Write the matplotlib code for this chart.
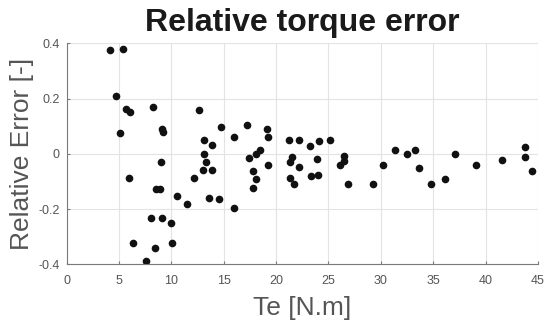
import matplotlib
matplotlib.use('Agg')
from matplotlib import pyplot as plt

# torque (N.m) and relative error
te = [4.11, 5.41, 4.71, 5.70, 6.08, 8.28, 12.68, 5.13, 9.10, 9.22,
      14.78, 13.09, 13.92, 9.04, 13.15, 13.34, 13.03, 13.89, 5.99, 12.17,
      8.50, 8.89, 10.54, 11.50, 13.63, 14.59, 8.03, 9.14, 10.00, 6.31,
      10.06, 8.47, 7.55,
      16.01, 17.25, 19.11, 19.27, 17.41, 18.07, 18.45, 19.27, 17.78, 18.04,
      17.75, 16.01, 21.20, 22.22, 23.26, 24.11, 25.13, 21.52, 21.36, 22.19,
      23.92, 21.36, 21.68, 23.29, 23.96, 26.46, 26.52, 26.14, 26.84, 29.27,
      30.20,
      31.35, 32.52, 33.30, 33.65, 34.78, 36.13, 37.04, 39.12, 41.54, 43.74,
      43.74, 44.40]
rel_err = [0.374, 0.380, 0.211, 0.162, 0.152, 0.170, 0.159, 0.077, 0.090, 0.080,
           0.096, 0.049, 0.031, -0.028, -0.001, -0.028, -0.059, -0.057, -0.087, -0.087,
           -0.126, -0.126, -0.153, -0.182, -0.159, -0.162, -0.232, -0.231, -0.251, -0.322,
           -0.322, -0.341, -0.389,
           0.061, 0.103, 0.089, 0.060, -0.014, 0.000, 0.013, -0.040, -0.061, -0.090,
           -0.123, -0.198, 0.050, 0.050, 0.029, 0.048, 0.050, -0.010, -0.030, -0.047,
           -0.018, -0.086, -0.109, -0.081, -0.077, -0.008, -0.026, -0.040, -0.109, -0.108,
           -0.042,
           0.014, -0.002, 0.013, -0.050, -0.108, -0.092, 0.000, -0.042, -0.023, 0.026,
           -0.012, -0.061]

x_ticks = [0, 5, 10, 15, 20, 25, 30, 35, 40, 45]
y_ticks = [-0.4, -0.2, 0, 0.2, 0.4]
y_tick_labels = ['-0.4', '-0.2', '0', '0.2', '0.4']

plt.rcParams['font.family'] = ['Liberation Sans', 'DejaVu Sans']

fig = plt.figure(figsize=(5.5, 3.29), dpi=100)
ax = fig.add_axes([0.1213, 0.1967, 0.8567, 0.6717])

ax.plot(te, rel_err, 'o', color='#111111', markersize=5.5, markeredgewidth=0)

ax.set_xlim(0, 45)
ax.set_ylim(-0.4, 0.4)
ax.set_xticks(x_ticks)
ax.set_yticks(y_ticks)
ax.set_yticklabels(y_tick_labels)
ax.grid(True, color='#e3e3e3', linewidth=0.8)
ax.set_axisbelow(True)

for side in ['top', 'right']:
    ax.spines[side].set_visible(False)
for side in ['left', 'bottom']:
    ax.spines[side].set_color('#7a7a7a')
    ax.spines[side].set_linewidth(0.8)

ax.tick_params(axis='both', direction='in', length=2.5, width=0.8,
               color='#7a7a7a', labelcolor='#555555', labelsize=9)
ax.tick_params(axis='x', pad=7.5)
ax.tick_params(axis='y', pad=5)

ax.set_title('Relative torque error', fontsize=23, fontweight='bold',
             color='#1a1a1a', pad=9)
ax.set_xlabel('Te [N.m]', fontsize=19, color='#555555', labelpad=7)
ax.set_ylabel('Relative Error [-]', fontsize=19, color='#555555', labelpad=3)

plt.savefig('out.png', dpi=100)
